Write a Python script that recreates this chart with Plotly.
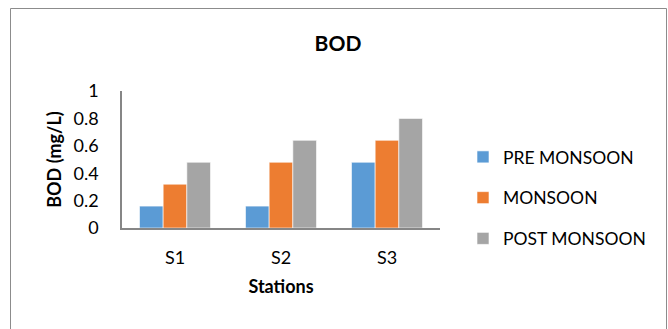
import plotly.graph_objects as go

stations = ["S1", "S2", "S3"]
pre_monsoon = [0.16, 0.16, 0.48]
monsoon = [0.32, 0.48, 0.64]
post_monsoon = [0.48, 0.64, 0.80]
y_ticks = [0, 0.2, 0.4, 0.6, 0.8, 1]
y_tick_text = ["0", "0.2", "0.4", "0.6", "0.8", "1"]

FONT = "Lato"
W, H = 668, 329
L, R, T, B = 122, 440, 91, 228  # plot area in pixels

series = [
    ("PRE MONSOON", pre_monsoon, "#5B9BD5"),
    ("MONSOON", monsoon, "#ED7D31"),
    ("POST MONSOON", post_monsoon, "#A5A5A5"),
]

fig = go.Figure()
for i, (name, vals, color) in enumerate(series):
    fig.add_trace(go.Bar(
        x=stations, y=vals, name=name, legendgroup=name,
        marker=dict(color=color, line=dict(color="white", width=0.6)),
    ))

pw, ph = R - L, B - T
def px(x):
    return (x - L) / pw
def py(y):
    return (B - y) / ph

fig.update_layout(
    width=W, height=H,
    margin=dict(l=L, r=W - R, t=T, b=H - B),
    paper_bgcolor="white", plot_bgcolor="white",
    barmode="group", bargap=0.33, bargroupgap=0,
    font=dict(family=FONT, size=18, color="#000000"),
    title=dict(text="<b>BOD</b>", x=338 / W, xanchor="center",
               y=1 - 44 / H, yanchor="middle", font=dict(size=21)),
    xaxis=dict(
        showline=True, linecolor="#868686", linewidth=2,
        ticks="", showgrid=False,
        ticklabelstandoff=12,
        title=dict(text="<b>Stations</b>", standoff=14, font=dict(size=18)),
        tickfont=dict(size=18),
    ),
    yaxis=dict(
        range=[0, 1], tickvals=y_ticks, ticktext=y_tick_text,
        showline=True, linecolor="#868686", linewidth=1.5,
        showgrid=False, zeroline=False, ticks="",
        ticklabelstandoff=18,
        title=dict(text="<b>BOD (mg/L)</b>", standoff=7, font=dict(size=18)),
        tickfont=dict(size=18),
    ),
    legend=dict(
        x=px(463), y=py(139), xanchor="left", yanchor="top",
        tracegroupgap=15, font=dict(size=17.5),
        bgcolor="rgba(0,0,0,0)",
    ),
    showlegend=True,
    shapes=[dict(
        type="rect", xref="paper", yref="paper",
        x0=px(10.5), x1=px(666.5), y0=py(340), y1=py(8.5),
        line=dict(color="#8C8C8C", width=1), fillcolor="rgba(0,0,0,0)",
        layer="below",
    )],
)

fig.write_html("out.html")
